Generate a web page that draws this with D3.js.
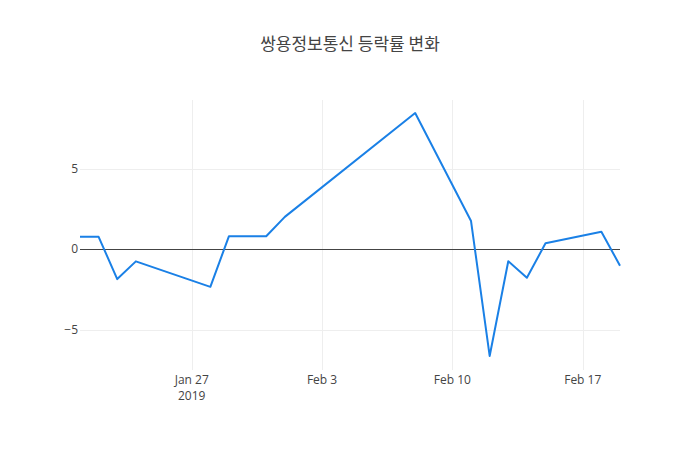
<!DOCTYPE html>
<html>
<head>
<meta charset="utf-8">
<script src="https://cdn.jsdelivr.net/npm/d3@7"></script>
<style>
  body { margin: 0; background: #fff; }
  text { font-family: "Open Sans", "Noto Sans CJK KR", sans-serif; fill: #444; }
</style>
</head>
<body>
<div id="chart"></div>
<script>
/**
 * DATA
 * */
const dates = [
  "2019-01-21", "2019-01-22", "2019-01-23", "2019-01-24", "2019-01-28",
  "2019-01-29", "2019-01-31", "2019-02-01", "2019-02-08", "2019-02-11",
  "2019-02-12", "2019-02-13", "2019-02-14", "2019-02-15", "2019-02-18",
  "2019-02-19"
];
const changes = [
  0.76, 0.76, -1.86, -0.76, -2.34,
  0.8, 0.8, 2.0, 8.44, 1.74,
  -6.63, -0.75, -1.78, 0.36, 1.08,
  -1.03
];
const yTicks = [-5, 0, 5];
const xTicks = ["2019-01-27", "2019-02-03", "2019-02-10", "2019-02-17"];
const title = "쌍용정보통신 등락률 변화";

/**
 * CONSTANTS
 * */
const width = 700,
  height = 450,
  margin = { top: 100, bottom: 80, left: 80, right: 80 };

const parse = d3.timeParse("%Y-%m-%d");
const data = dates.map((d, i) => ({ date: parse(d), value: changes[i] }));

const svg = d3.select("#chart")
  .append("svg")
  .attr("width", width)
  .attr("height", height);

const x = d3.scaleTime()
  .domain(d3.extent(data, d => d.date))
  .range([margin.left, width - margin.right]);

const y = d3.scaleLinear()
  .domain([-7.5, 9.25])
  .range([height - margin.bottom, margin.top]);

const snap = v => Math.round(v) + 0.5;

// grid lines
svg.append("g")
  .selectAll("line")
  .data(xTicks.map(parse))
  .join("line")
  .attr("x1", d => snap(x(d))).attr("x2", d => snap(x(d)))
  .attr("y1", margin.top).attr("y2", height - margin.bottom)
  .attr("stroke", "#eee").attr("stroke-width", 1);

svg.append("g")
  .selectAll("line")
  .data(yTicks.filter(t => t !== 0))
  .join("line")
  .attr("x1", margin.left).attr("x2", width - margin.right)
  .attr("y1", d => snap(y(d))).attr("y2", d => snap(y(d)))
  .attr("stroke", "#eee").attr("stroke-width", 1);

// zero line
svg.append("line")
  .attr("x1", margin.left).attr("x2", width - margin.right)
  .attr("y1", snap(y(0))).attr("y2", snap(y(0)))
  .attr("stroke", "#444").attr("stroke-width", 1);

// y tick labels
svg.append("g")
  .selectAll("text")
  .data(yTicks)
  .join("text")
  .attr("x", margin.left - 2)
  .attr("y", d => y(d))
  .attr("dy", "0.35em")
  .attr("text-anchor", "end")
  .style("font-size", "12px")
  .text(d => d < 0 ? "\u2212" + Math.abs(d) : d);

// x tick labels
const fmt = d3.timeFormat("%b %-d");
const xl = svg.append("g")
  .selectAll("text")
  .data(xTicks.map(parse))
  .join("text")
  .attr("x", d => x(d))
  .attr("y", height - margin.bottom + 14)
  .attr("text-anchor", "middle")
  .style("font-size", "12px");
xl.append("tspan").text(d => fmt(d));
xl.filter((d, i) => i === 0)
  .append("tspan")
  .attr("x", d => x(d))
  .attr("dy", "1.3em")
  .text("2019");

// line
const line = d3.line()
  .x(d => x(d.date))
  .y(d => y(d.value));

svg.append("path")
  .datum(data)
  .attr("fill", "none")
  .attr("stroke", "#1a80e6")
  .attr("stroke-width", 2)
  .attr("stroke-linejoin", "round")
  .attr("d", line);

// title
svg.append("text")
  .attr("x", width / 2)
  .attr("y", 50)
  .attr("text-anchor", "middle")
  .style("font-size", "17px")
  .style("font-family", "'Noto Sans CJK KR', sans-serif")
  .text(title);
</script>
</body>
</html>
